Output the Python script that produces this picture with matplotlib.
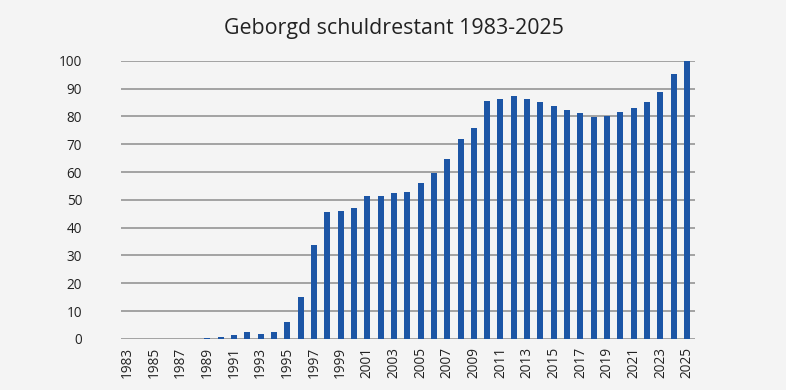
import numpy as np
import matplotlib
matplotlib.use('Agg')
import matplotlib.pyplot as plt

plt.rcParams['font.family'] = ['Open Sans', 'DejaVu Sans']

# jaren en geborgd schuldrestant (index, 2025 = 100)
jaren = list(range(1983, 2026))
waarden = [0, 0, 0, 0, 0, 0, 0.35, 0.7, 1.4, 2.4, 1.9, 2.6, 6.2, 15.2, 33.7,
           45.5, 46.1, 46.9, 51.5, 51.5, 52.3, 52.7, 55.9, 59.7, 64.8, 71.8,
           75.9, 85.4, 86.4, 87.5, 86.2, 85.2, 83.9, 82.4, 81.3, 79.8, 80.2,
           81.5, 82.9, 85.2, 88.8, 95.1, 100]
titel = 'Geborgd schuldrestant 1983-2025'

achtergrond = '#f4f4f4'
fig = plt.figure(figsize=(7.86, 3.9), dpi=100, facecolor=achtergrond)
ax = fig.add_axes([0.154, 0.131, 0.730, 0.713])
ax.set_facecolor(achtergrond)

x = np.arange(len(jaren))
ax.bar(x, waarden, width=0.45, color='#1c55a5', zorder=3)

ax.set_xlim(-0.47, 42.58)
ax.set_ylim(0, 100)
ax.set_yticks(range(0, 101, 10))
ax.set_xticks(x[::2])
ax.set_xticklabels([str(j) for j in jaren[::2]], rotation=90)
ax.tick_params(axis='both', length=0, labelsize=9.8, colors='#222222')
ax.tick_params(axis='y', pad=28)
ax.tick_params(axis='x', pad=6)

ax.grid(axis='y', color='#949494', linewidth=1.2, zorder=0)
for s in ax.spines.values():
    s.set_visible(False)

fig.text(0.501, 0.928, titel, ha='center', va='center', fontsize=15.4, color='#222222')

fig.savefig('out.png', dpi=100, facecolor=achtergrond)
